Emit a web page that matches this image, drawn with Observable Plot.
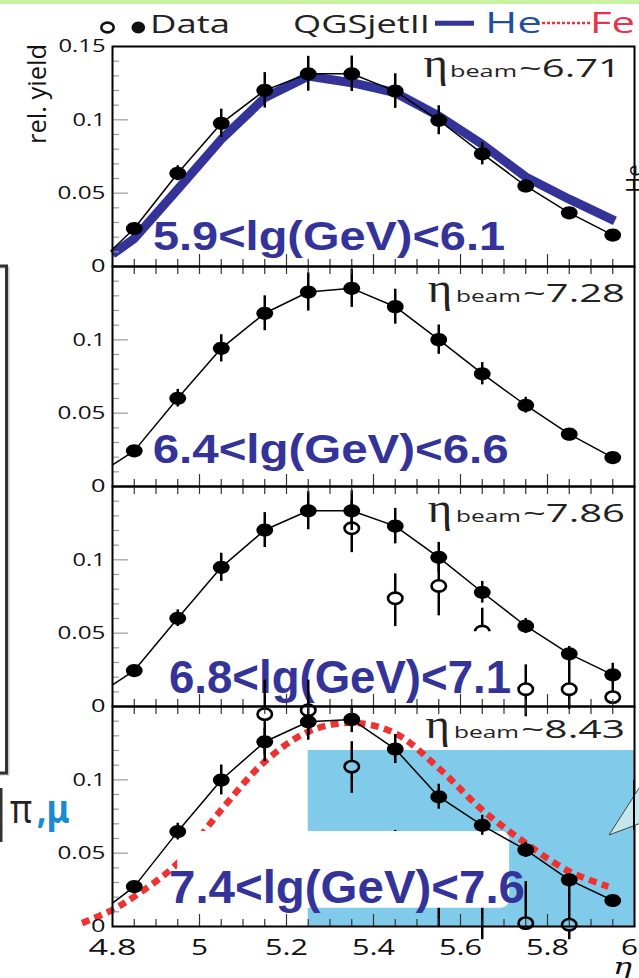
<!DOCTYPE html>
<html><head><meta charset="utf-8">
<script src="https://cdn.jsdelivr.net/npm/d3@7"></script>
<script src="https://cdn.jsdelivr.net/npm/@observablehq/plot@0.6"></script>
<style>
html,body{margin:0;padding:0;background:#fff;}
#wrap{position:relative;width:639px;height:978px;overflow:hidden;background:#fff;}
</style></head><body><div id="wrap"></div>
<script>
// ---------------- data ----------------
const eta = [4.85, 4.95, 5.05, 5.15, 5.25, 5.35, 5.45, 5.55, 5.65, 5.75, 5.85, 5.95];
const energyBins = ["5.9<lg(GeV)<6.1", "6.4<lg(GeV)<6.6", "6.8<lg(GeV)<7.1", "7.4<lg(GeV)<7.6"];
const etaBeam = ["~6.71", "~7.28", "~7.86", "~8.43"];

const yield1 = [0.0259, 0.0636, 0.0976, 0.1201, 0.1314, 0.1314, 0.1196, 0.0997, 0.0769, 0.0549, 0.0366, 0.0214];
const err1   = [0.003, 0.0051, 0.0097, 0.0121, 0.0119, 0.0121, 0.0118, 0.0099, 0.0076, 0.0045, 0.003, 0.002];
const yield2 = [0.0243, 0.0602, 0.0942, 0.1181, 0.1326, 0.1351, 0.1226, 0.1001, 0.0769, 0.0554, 0.0357, 0.0197];
const err2   = [0.003, 0.006, 0.0093, 0.0119, 0.013, 0.013, 0.0119, 0.010, 0.0076, 0.0054, 0.003, 0.002];
const yield3 = [0.0245, 0.0602, 0.0949, 0.1203, 0.1335, 0.1335, 0.123, 0.1017, 0.0779, 0.0549, 0.0359, 0.0216];
const err3   = [0.003, 0.0057, 0.0096, 0.0119, 0.013, 0.0136, 0.0121, 0.0102, 0.0074, 0.0051, 0.003, 0.002];
const yield4 = [0.0272, 0.0647, 0.0999, 0.126, 0.1396, 0.1412, 0.121, 0.0885, 0.069, 0.0522, 0.0318, 0.0177];
const err4   = [0.003, 0.0057, 0.0102, 0.0091, 0.0093, 0.009, 0.0099, 0.0085, 0.0068, 0.0051, 0.003, 0.002];
// value of the data curve where it enters the frame (eta = 4.8)
const edgeEta = 4.8;
const edgeYield = [0.0118, 0.0148, 0.0148, 0.0159];

// open circles
const openEta3 = [5.35, 5.45, 5.55, 5.65, 5.75, 5.85, 5.95];
const openY3   = [0.1215, 0.0738, 0.0822, 0.0511, 0.0118, 0.0118, 0.0064];
const openLo3  = [0.1049, 0.0545, 0.0618, 0.035, -0.007, -0.002, 0.003];
const openHi3  = [0.1403, 0.0904, 0.0976, 0.067, 0.0284, 0.0409, 0.0295];
const openEta4 = [5.15, 5.25, 5.35, 5.45, 5.55, 5.65, 5.75, 5.85];
const openY4   = [0.1448, 0.1475, 0.109, 0.045, 0.03, 0.02, 0.0023, 0.0012];
const openLo4  = [0.1124, 0.127, 0.0908, 0.025, 0.0, -0.009, 0.0023, -0.009];
const openHi4  = [0.168, 0.168, 0.126, 0.0655, 0.055, 0.045, 0.0306, 0.0272];

// QGSjetII He (panel 1) and Fe (panel 4)
const heEta   = [4.8, 4.85, 4.95, 5.05, 5.15, 5.25, 5.35, 5.45, 5.55, 5.65, 5.75, 5.85, 5.955];
const heYield = [0.0084, 0.019, 0.0527, 0.0867, 0.115, 0.1298, 0.1253, 0.1185, 0.1026, 0.0833, 0.0611, 0.0459, 0.0311];
const feEta   = [4.73, 4.8, 4.85, 4.95, 5.05, 5.15, 5.25, 5.35, 5.45, 5.55, 5.65, 5.75, 5.85, 5.94];
const feYield = [0.0023, 0.0114, 0.0204, 0.0432, 0.0795, 0.1124, 0.1328, 0.1389, 0.1317, 0.108, 0.0795, 0.0568, 0.0375, 0.0272];

// annotation regions (data coordinates)
const cyanBand  = {eta1: 5.25, eta2: 6.0, y1: 0, y2: 0.12};
const labelBox3 = {eta1: 4.93, eta2: 5.72, y1: 0.002, y2: 0.051};
const labelBox4 = {eta1: 4.95, eta2: 5.713, y1: 0.0125, y2: 0.0647};

// ticks
const yLabelTicks = [[0, 0.05, 0.1, 0.15], [0, 0.05, 0.1], [0, 0.05, 0.1], [0, 0.05, 0.1]];
const yMajor = [0.05, 0.1];
const yMinor = [0.01, 0.02, 0.03, 0.04, 0.06, 0.07, 0.08, 0.09, 0.11, 0.12, 0.13, 0.14];
const xLabelTicks = [4.8, 5.0, 5.2, 5.4, 5.6, 5.8, 6.0];
const xMajor = [5.0, 5.2, 5.4, 5.6, 5.8];
const xMinor = [4.85, 4.9, 4.95, 5.05, 5.1, 5.15, 5.25, 5.3, 5.35, 5.45, 5.5, 5.55, 5.65, 5.7, 5.75, 5.85, 5.9, 5.95];

// ---------------- layout ----------------
const W = 639, ML = 112, MR = 5, IH = 220, IW = W - ML - MR;
const tops = [46, 266, 486, 706];
const C_BLUE = "#333399", C_CYAN = "#80cbea", C_RED = "#ee3131";

const yields = [yield1, yield2, yield3, yield4];
const errs = [err1, err2, err3, err4];
const opens = [null, null,
  openEta3.map((e, k) => ({eta: e, y: openY3[k], lo: openLo3[k], hi: openHi3[k]})),
  openEta4.map((e, k) => ({eta: e, y: openY4[k], lo: openLo4[k], hi: openHi4[k]}))];
const boxes = [null, null, labelBox3, labelBox4];

function ellipse(ax, by) {
  return {draw(ctx, size) {
    const r = Math.sqrt(size / Math.PI), a = r * ax, b = r * by, k = 0.5523;
    ctx.moveTo(a, 0);
    ctx.bezierCurveTo(a, b * k, a * k, b, 0, b);
    ctx.bezierCurveTo(-a * k, b, -a, b * k, -a, 0);
    ctx.bezierCurveTo(-a, -b * k, -a * k, -b, 0, -b);
    ctx.bezierCurveTo(a * k, -b, a, -b * k, a, 0);
    ctx.closePath();
  }};
}
const ovalSym = ellipse(1.15, 0.9);

function addText(parent, o) {
  const t = parent.append("text")
    .attr("x", o.x).attr("y", o.y)
    .attr("font-size", o.size)
    .attr("font-family", o.family || "Open Sans")
    .attr("font-weight", o.weight || "normal")
    .attr("font-style", o.style || "normal")
    .attr("fill", o.fill || "#111")
    .attr("text-anchor", o.anchor || "start")
    .text(o.text);
  if (o.width) t.attr("textLength", o.width).attr("lengthAdjust", "spacingAndGlyphs");
  if (o.rotate != null) t.attr("transform", `rotate(${o.rotate},${o.x},${o.y})`);
  return t;
}

const wrap = document.getElementById("wrap");
const yLabW = {"0": 14.5, "0.05": 48, "0.1": 33, "0.15": 47};
const xLabW = {"4.8": 48, "5": 17, "5.2": 43, "5.4": 43, "5.6": 43, "5.8": 43, "6": 17};

const labelPos = [
  {x: 153, y: 250, size: 40, w: 352},
  {x: 152.7, y: 463.3, size: 40, w: 356},
  {x: 169, y: 693.3, size: 46.5, w: 342},
  {x: 169, y: 903.3, size: 46.5, w: 356}
];
const beamPos = [
  {y: 76.7, ex: 423.6, bx: 450, bw: 67, nx: 519, nw: 102},
  {y: 301.7, ex: 427.7, bx: 456, bw: 65, nx: 523, nw: 102},
  {y: 521.7, ex: 427.7, bx: 456, bw: 65, nx: 523, nw: 102},
  {y: 738.3, ex: 425.6, bx: 454, bw: 65, nx: 521, nw: 104}
];

for (let i = 0; i < 4; i++) {
  const mt = 40, mb = i === 3 ? 62 : 40;
  const d = eta.map((e, k) => ({eta: e, y: yields[i][k], err: errs[i][k]}));
  const lineData = [{eta: edgeEta, y: edgeYield[i]}, ...d];
  const marks = [];
  if (i === 3) marks.push(Plot.rect([cyanBand], {x1: "eta1", x2: "eta2", y1: "y1", y2: "y2", fill: C_CYAN}));
  if (i === 0) marks.push(Plot.line(heEta.map((e, k) => ({eta: e, y: heYield[k]})),
    {x: "eta", y: "y", stroke: C_BLUE, strokeWidth: 9, strokeLinejoin: "round", strokeLinecap: "butt"}));
  if (i === 3) marks.push(Plot.line(feEta.map((e, k) => ({eta: e, y: feYield[k]})),
    {x: "eta", y: "y", stroke: C_RED, strokeWidth: 6.5, strokeDasharray: "8,5.5", strokeLinecap: "butt",
     strokeLinejoin: "miter", curve: "catmull-rom"}));
  if (opens[i]) {
    const o = opens[i];
    const inCyan = i === 3;
    marks.push(Plot.ruleX(o, {x: "eta", y1: "lo", y2: "hi", stroke: "black", strokeWidth: 2.5}));
    marks.push(Plot.dot(o, {x: "eta", y: "y", r: 6.3, symbol: ovalSym, stroke: "black", strokeWidth: 2.6,
      fill: r => (inCyan && r.eta >= cyanBand.eta1 && r.y <= cyanBand.y2 ? C_CYAN : "white")}));
  }
  if (boxes[i]) marks.push(Plot.rect([boxes[i]], {x1: "eta1", x2: "eta2", y1: "y1", y2: "y2", fill: "white", rx: 8}));
  marks.push(Plot.line(lineData, {x: "eta", y: "y", stroke: "black", strokeWidth: 1.5}));
  marks.push(Plot.ruleX(d, {x: "eta", y1: r => r.y - r.err, y2: r => r.y + r.err, stroke: "black", strokeWidth: 2.5}));
  marks.push(Plot.dot(d, {x: "eta", y: "y", r: 7.3, symbol: ovalSym, fill: "black", stroke: "none"}));
  // ticks
  marks.push(Plot.tickY(yMinor, {y: v => v, stroke: "#999", strokeWidth: 1.2, insetRight: IW - 7}));
  marks.push(Plot.tickY(yMajor, {y: v => v, stroke: "#999", strokeWidth: 1.2, insetRight: IW - 16}));
  marks.push(Plot.tickX(xMinor, {x: v => v, stroke: "#333", strokeWidth: 1.2, insetTop: IH - 7}));
  marks.push(Plot.tickX(xMajor, {x: v => v, stroke: "#333", strokeWidth: 1.2, insetTop: IH - 12}));
  if (i > 0) {
    marks.push(Plot.tickX(xMinor, {x: v => v, stroke: "#333", strokeWidth: 1.2, insetBottom: IH - 8}));
    marks.push(Plot.tickX(xMajor, {x: v => v, stroke: "#333", strokeWidth: 1.2, insetBottom: IH - 8}));
  }
  marks.push(Plot.frame({stroke: "black", strokeWidth: 2}));
  marks.push(Plot.axisY({ticks: yLabelTicks[i], tickSize: 0, tickPadding: 7, fontSize: 18.6,
    tickFormat: v => String(v), label: null, fill: "#111"}));
  if (i === 3) marks.push(Plot.axisX({ticks: xLabelTicks, tickSize: 0, tickPadding: 14, fontSize: 21,
    tickFormat: v => String(v), label: null, fill: "#111"}));

  const el = Plot.plot({
    width: W, height: mt + IH + mb,
    marginLeft: ML, marginRight: MR, marginTop: mt, marginBottom: mb,
    x: {domain: [4.8, 6.0], ...(i === 3 ? {} : {axis: null})},
    y: {domain: [0, 0.15]},
    marks
  });
  const top = tops[i] - mt;
  Object.assign(el.style, {position: "absolute", left: "0px", top: top + "px", background: "transparent",
    overflow: "visible", fontFamily: "'Open Sans', sans-serif", maxWidth: "none"});
  wrap.appendChild(el);

  el.querySelectorAll('g[aria-label="y-axis tick label"] text').forEach(t => {
    const w = yLabW[t.textContent]; if (w) { t.setAttribute("textLength", w); t.setAttribute("lengthAdjust", "spacingAndGlyphs"); }
  });
  el.querySelectorAll('g[aria-label="x-axis tick label"] text').forEach(t => {
    const w = xLabW[t.textContent]; if (w) { t.setAttribute("textLength", w); t.setAttribute("lengthAdjust", "spacingAndGlyphs"); }
    if (t.textContent === "6") t.setAttribute("dx", -5);
  });

  const svg = d3.select(el);
  const lp = labelPos[i];
  addText(svg, {x: lp.x, y: lp.y - top, text: energyBins[i], size: lp.size, family: "'Liberation Sans', Arial, sans-serif",
    weight: "bold", fill: C_BLUE, width: lp.w});
  const bp = beamPos[i];
  addText(svg, {x: bp.ex, y: bp.y - top, text: "η", size: 42, family: "'Liberation Serif', serif", fill: "#222", width: 24.4});
  addText(svg, {x: bp.bx, y: bp.y - top, text: "beam", size: 16.5, fill: "#222", width: bp.bw});
  addText(svg, {x: bp.nx, y: bp.y - top, text: etaBeam[i], size: 25.8, fill: "#222", width: bp.nw});
}

// ---------------- overlay: legend, side decorations ----------------
const ov = d3.select(wrap).append("svg").attr("width", W).attr("height", 978)
  .style("position", "absolute").style("left", "0px").style("top", "0px").style("overflow", "hidden");
ov.append("rect").attr("x", 0).attr("y", 0).attr("width", W).attr("height", 4).attr("fill", "#c9f2a2");
// legend
ov.append("ellipse").attr("cx", 107.5).attr("cy", 27.5).attr("rx", 6.2).attr("ry", 4.9)
  .attr("fill", "white").attr("stroke", "#111").attr("stroke-width", 2.6);
ov.append("ellipse").attr("cx", 138.3).attr("cy", 27.5).attr("rx", 6.8).attr("ry", 5.9).attr("fill", "#111");
addText(ov, {x: 150, y: 33.3, text: "Data", size: 25.6, fill: "#222", width: 80});
addText(ov, {x: 293, y: 33.3, text: "QGSjetII", size: 25.6, fill: "#222", width: 137});
ov.append("line").attr("x1", 435).attr("x2", 474).attr("y1", 23.3).attr("y2", 23.3)
  .attr("stroke", C_BLUE).attr("stroke-width", 5);
addText(ov, {x: 485, y: 33.3, text: "He", size: 30, fill: "#1f4f9f", width: 57});
ov.append("line").attr("x1", 542).attr("x2", 590).attr("y1", 23).attr("y2", 23)
  .attr("stroke", "#e8333c").attr("stroke-width", 2.5).attr("stroke-dasharray", "3,2");
addText(ov, {x: 590, y: 33.3, text: "Fe", size: 30, fill: "#e8334a", width: 45});
// y title
addText(ov, {x: 46, y: 94, text: "rel. yield", size: 25, fill: "#111", anchor: "middle", width: 100, rotate: -90});
// left bracket
ov.append("path").attr("d", "M0,267.5 H8.5 V774.5 H0").attr("fill", "none").attr("stroke", "#c8c8c8").attr("stroke-width", 2);
ov.append("path").attr("d", "M0,266 H6.5 V773 H0").attr("fill", "none").attr("stroke", "#333").attr("stroke-width", 3);
ov.append("line").attr("x1", 1).attr("x2", 1).attr("y1", 788).attr("y2", 842).attr("stroke", "#333").attr("stroke-width", 3);
addText(ov, {x: 10, y: 823, text: "π", size: 40, family: "'Noto Sans', sans-serif", fill: "#222", width: 22});
addText(ov, {x: 36.7, y: 823, text: ",μ", size: 40, family: "'Noto Sans', sans-serif", weight: "bold", fill: "#1a8bd0", width: 33});
// rotated fragment on the right of panel 1
addText(ov, {x: 642, y: 193, text: "He", size: 22, fill: "#111", rotate: -90});
// callout pointer in panel 4
ov.append("polygon").attr("points", "609,835 641,785 641,823").attr("fill", "#c6e6ea").attr("stroke", "#444").attr("stroke-width", 1);
ov.append("line").attr("x1", 634).attr("x2", 634).attr("y1", 780).attr("y2", 830).attr("stroke", "black").attr("stroke-width", 2);
// x title
addText(ov, {x: 613, y: 974, text: "η", size: 22, family: "'DejaVu Serif', serif", style: "italic", fill: "#111", width: 19});
</script></body></html>
